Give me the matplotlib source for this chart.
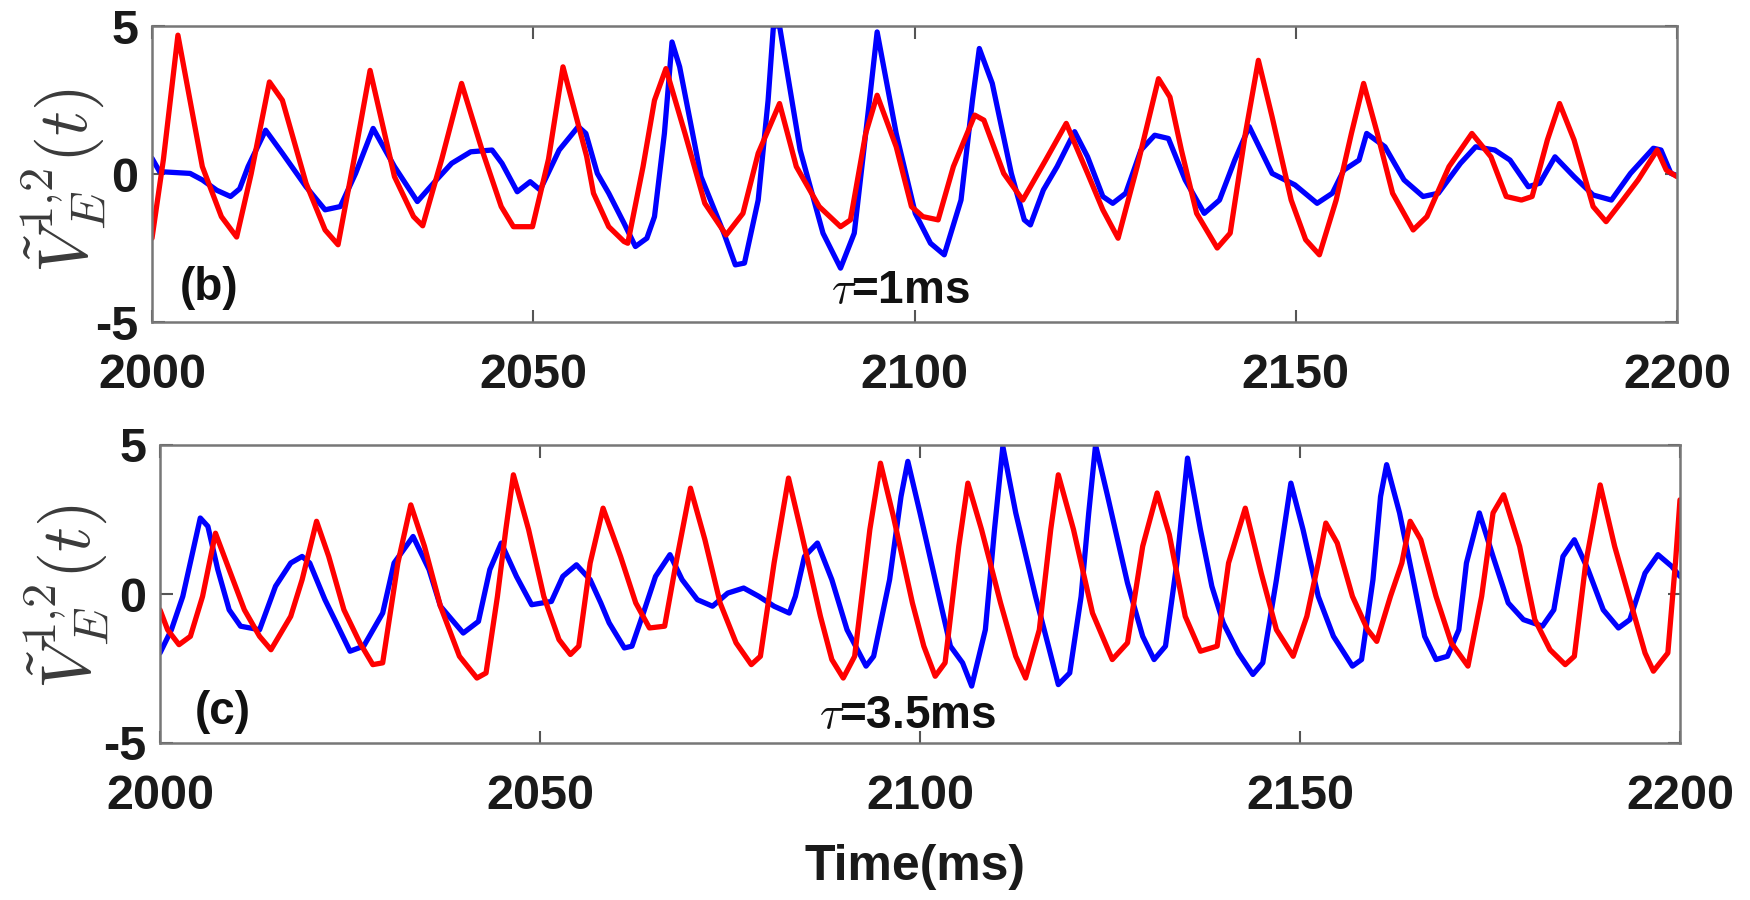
import matplotlib
matplotlib.use("Agg")
import matplotlib.pyplot as plt

plt.rcParams['mathtext.fontset'] = 'cm'
plt.rcParams['font.family'] = ['Liberation Sans', 'DejaVu Sans']

# ---------------- data ----------------
x_ticks = [2000, 2050, 2100, 2150, 2200]
y_ticks = [-5, 0, 5]
y_ticklabels = ['-5', '0', '5']

# panel (b), tau = 1 ms
b_blue_t = [2000.0, 2001.0, 2003.0, 2005.0, 2006.6, 2008.5, 2010.3, 2011.5, 2012.6, 2014.9,
            2017.1, 2020.2, 2022.7, 2024.7, 2026.7, 2029.0, 2031.8, 2034.8, 2037.3, 2039.3,
            2041.8, 2044.6, 2045.9, 2047.9, 2049.6, 2050.9, 2053.4, 2055.9, 2056.9, 2058.4,
            2059.9, 2061.9, 2063.4, 2064.9, 2065.9, 2067.2, 2068.2, 2069.2, 2072.0, 2075.0,
            2076.5, 2077.7, 2079.5, 2080.8, 2081.5, 2082.3, 2085.0, 2088.0, 2090.3, 2092.1,
            2094.1, 2095.1, 2097.6, 2100.1, 2102.1, 2103.9, 2106.1, 2107.6, 2108.5, 2110.2,
            2112.7, 2114.4, 2115.2, 2116.9, 2118.7, 2121.0, 2122.7, 2124.7, 2126.0, 2127.7,
            2129.7, 2131.5, 2133.3, 2135.5, 2138.0, 2140.0, 2142.0, 2143.9, 2146.9, 2149.9,
            2152.8, 2154.8, 2156.3, 2158.3, 2159.3, 2161.7, 2164.2, 2166.7, 2168.7, 2171.6,
            2173.6, 2176.1, 2178.1, 2180.5, 2182.0, 2184.0, 2186.5, 2189.0, 2191.4, 2193.9,
            2196.9, 2197.9, 2199.2, 2200.0]
b_blue_v = [0.53, 0.08, 0.05, 0.02, -0.2, -0.55, -0.76, -0.5, 0.25, 1.48,
            0.7, -0.43, -1.21, -1.1, 0.02, 1.54, 0.25, -0.93, -0.2, 0.36,
            0.75, 0.81, 0.36, -0.6, -0.26, -0.54, 0.81, 1.6, 1.37, 0.02,
            -0.65, -1.66, -2.45, -2.17, -1.44, 1.37, 4.46, 3.62, -0.09, -2.0,
            -3.07, -3.01, -0.88, 2.49, 5.0, 5.0, 0.81, -2.0, -3.18, -2.0,
            2.49, 4.8, 1.37, -1.33, -2.34, -2.73, -0.88, 2.49, 4.24, 3.06,
            0.02, -1.55, -1.72, -0.54, 0.25, 1.43, 0.58, -0.76, -0.99, -0.65,
            0.81, 1.31, 1.2, -0.2, -1.33, -0.88, 0.47, 1.6, 0.02, -0.37,
            -0.99, -0.65, 0.13, 0.47, 1.37, 0.92, -0.2, -0.76, -0.65, 0.36,
            0.92, 0.81, 0.47, -0.43, -0.31, 0.58, -0.09, -0.71, -0.88, 0.02,
            0.87, 0.81, 0.02, -0.05]

b_red_t = [2000.0, 2001.5, 2003.4, 2006.6, 2009.1, 2011.1, 2013.0, 2015.4, 2017.1, 2020.2,
           2022.7, 2024.4, 2026.5, 2028.6, 2031.8, 2034.3, 2035.5, 2038.0, 2040.6, 2043.3,
           2045.8, 2047.4, 2049.9, 2052.0, 2053.9, 2057.0, 2057.9, 2059.9, 2061.9, 2062.4,
           2064.4, 2065.9, 2067.4, 2069.9, 2072.5, 2075.3, 2077.5, 2079.5, 2082.3, 2084.5,
           2087.5, 2090.3, 2091.6, 2093.6, 2095.1, 2097.6, 2099.6, 2101.1, 2103.1, 2105.1,
           2107.9, 2109.1, 2111.7, 2114.2, 2117.2, 2119.9, 2122.7, 2124.7, 2126.7, 2129.2,
           2132.0, 2133.5, 2135.0, 2137.0, 2139.7, 2141.4, 2143.4, 2145.1, 2146.9, 2149.4,
           2151.3, 2153.1, 2155.3, 2157.3, 2158.9, 2160.7, 2162.7, 2165.4, 2167.2, 2170.1,
           2173.1, 2175.6, 2177.6, 2179.6, 2181.0, 2183.0, 2184.6, 2186.5, 2189.0, 2190.7,
           2192.9, 2194.9, 2197.4, 2198.6, 2200.0]
b_red_v = [-2.17, 0.5, 4.69, 0.25, -1.44, -2.13, 0.0, 3.11, 2.49, -0.31,
           -1.89, -2.39, 0.5, 3.5, -0.09, -1.44, -1.75, 0.5, 3.06, 0.8,
           -1.1, -1.78, -1.78, 0.5, 3.62, 0.6, -0.65, -1.78, -2.28, -2.34,
           0.25, 2.49, 3.56, 1.37, -0.99, -2.06, -1.33, 0.7, 2.38, 0.25,
           -1.1, -1.78, -1.55, 1.37, 2.66, 0.92, -1.1, -1.44, -1.55, 0.25,
           1.99, 1.82, 0.02, -0.88, 0.47, 1.71, 0.02, -1.21, -2.17, 0.25,
           3.22, 2.6, 0.81, -1.33, -2.5, -2.0, 1.37, 3.84, 1.93, -0.88,
           -2.22, -2.73, -0.88, 1.37, 3.06, 1.37, -0.65, -1.89, -1.44, 0.25,
           1.37, 0.58, -0.76, -0.88, -0.76, 1.15, 2.38, 1.15, -1.1, -1.61,
           -0.88, -0.2, 0.81, 0.13, -0.09]

# panel (c), tau = 3.5 ms
c_blue_t = [2000.0, 2001.5, 2003.0, 2005.3, 2006.3, 2007.6, 2009.1, 2010.6, 2013.1, 2015.2,
            2017.2, 2018.7, 2019.7, 2021.7, 2023.2, 2025.0, 2026.8, 2029.3, 2030.8, 2033.3,
            2035.4, 2036.9, 2039.9, 2041.9, 2043.4, 2044.9, 2046.9, 2048.9, 2051.5, 2053.0,
            2054.8, 2056.6, 2058.0, 2059.1, 2061.1, 2062.1, 2063.6, 2065.2, 2067.1, 2068.7,
            2070.7, 2072.7, 2074.7, 2076.8, 2078.8, 2080.8, 2082.8, 2083.6, 2084.8, 2086.5,
            2088.4, 2090.4, 2092.9, 2093.9, 2096.0, 2097.5, 2098.4, 2100.0, 2102.5, 2104.0,
            2105.6, 2106.8, 2108.6, 2109.8, 2110.9, 2112.6, 2115.2, 2116.9, 2118.2, 2119.7,
            2121.2, 2122.2, 2123.1, 2124.7, 2127.3, 2129.3, 2130.8, 2132.3, 2133.8, 2135.2,
            2136.9, 2138.4, 2139.9, 2141.9, 2143.8, 2145.1, 2146.9, 2148.8, 2150.4, 2152.4,
            2154.4, 2156.9, 2158.1, 2159.6, 2160.6, 2161.4, 2163.1, 2164.9, 2166.4, 2167.9,
            2169.4, 2170.9, 2171.9, 2173.6, 2175.4, 2177.4, 2179.4, 2181.9, 2183.4, 2184.6,
            2186.1, 2187.9, 2189.9, 2191.9, 2193.4, 2195.4, 2197.1, 2198.9, 2200.0]
c_blue_v = [-1.98, -1.2, -0.08, 2.55, 2.27, 0.82, -0.53, -1.08, -1.2, 0.26,
            1.04, 1.26, 1.04, -0.19, -0.97, -1.92, -1.75, -0.64, 1.04, 1.93,
            0.82, -0.41, -1.31, -0.92, 0.82, 1.71, 0.59, -0.36, -0.25, 0.59,
            0.98, 0.48, -0.3, -0.97, -1.81, -1.75, -0.64, 0.59, 1.32, 0.48,
            -0.19, -0.41, 0.03, 0.2, -0.08, -0.41, -0.64, -0.08, 1.26, 1.71,
            0.48, -1.2, -2.42, -2.09, 0.48, 3.27, 4.45, 2.72, -0.08, -1.75,
            -2.31, -3.09, -1.2, 2.16, 4.95, 2.72, -0.08, -1.75, -3.04, -2.65,
            -0.08, 2.72, 5.0, 3.27, 0.37, -1.42, -2.2, -1.75, 1.04, 4.56,
            2.16, 0.26, -0.97, -1.98, -2.7, -2.31, 0.48, 3.72, 2.16, -0.08,
            -1.42, -2.42, -2.2, 0.48, 3.27, 4.34, 2.72, 0.48, -1.42, -2.2,
            -2.09, -1.2, 1.04, 2.72, 1.26, -0.3, -0.86, -1.08, -0.53, 1.26,
            1.82, 0.82, -0.53, -1.14, -0.86, 0.7, 1.32, 0.93, 0.59]

c_red_t = [2000.0, 2001.0, 2002.5, 2004.0, 2005.6, 2007.3, 2009.1, 2011.1, 2013.1, 2014.6,
           2017.2, 2018.7, 2020.6, 2022.2, 2024.2, 2026.3, 2028.0, 2029.3, 2031.3, 2033.0,
           2034.8, 2036.9, 2039.4, 2041.7, 2042.9, 2044.4, 2045.5, 2046.5, 2048.5, 2050.5,
           2052.5, 2054.0, 2055.1, 2056.6, 2058.3, 2060.6, 2062.6, 2064.4, 2066.4, 2067.9,
           2069.8, 2071.7, 2073.7, 2075.8, 2077.8, 2079.0, 2080.8, 2082.7, 2084.3, 2086.9,
           2088.4, 2089.9, 2091.4, 2093.4, 2094.8, 2096.5, 2099.0, 2100.5, 2102.0, 2103.3,
           2105.1, 2106.3, 2108.1, 2110.6, 2112.6, 2113.9, 2115.7, 2117.2, 2118.2, 2120.2,
           2122.7, 2125.3, 2127.3, 2129.3, 2131.2, 2132.8, 2134.9, 2136.9, 2139.1, 2140.6,
           2142.8, 2144.9, 2146.9, 2149.1, 2150.9, 2152.4, 2153.4, 2154.9, 2156.9, 2158.9,
           2160.1, 2161.9, 2163.4, 2164.5, 2165.9, 2167.9, 2169.9, 2172.1, 2173.9, 2175.4,
           2176.8, 2178.9, 2180.9, 2182.9, 2184.9, 2186.1, 2187.6, 2189.5, 2191.4, 2193.9,
           2195.4, 2196.5, 2198.4, 2199.4, 2200.0]
c_red_v = [-0.53, -1.2, -1.7, -1.42, -0.08, 2.04, 0.82, -0.53, -1.42, -1.87,
           -0.75, 0.48, 2.44, 1.26, -0.53, -1.64, -2.37, -2.31, 1.04, 2.99,
           1.6, -0.41, -2.09, -2.82, -2.65, -0.08, 2.16, 4.0, 2.16, -0.08,
           -1.53, -2.03, -1.75, 1.04, 2.88, 1.26, -0.3, -1.14, -1.08, 1.04,
           3.55, 1.82, -0.3, -1.64, -2.37, -2.09, 1.04, 3.89, 2.16, -0.75,
           -2.2, -2.82, -2.09, 2.16, 4.39, 2.6, -0.3, -1.75, -2.76, -2.31,
           1.6, 3.72, 2.16, -0.3, -2.09, -2.82, -1.2, 2.16, 4.0, 2.16,
           -0.64, -2.2, -1.64, 1.6, 3.39, 2.0, -0.75, -1.92, -1.75, 1.04,
           2.88, 0.7, -1.2, -2.09, -0.75, 1.04, 2.38, 1.71, -0.08, -1.2,
           -1.59, -0.08, 1.04, 2.44, 1.82, -0.08, -1.64, -2.42, -0.08, 2.72,
           3.33, 1.6, -0.86, -1.87, -2.37, -2.09, 1.04, 3.66, 1.6, -0.64,
           -1.98, -2.59, -1.98, 1.04, 3.16]

panel_labels = ['(b)', '(c)']
tau_labels = [r'$\tau$=1ms', r'$\tau$=3.5ms']
ylabel_text = r'$\tilde{V}_E^{1{,}2}(t)$'
xlabel_text = 'Time(ms)'

# ---------------- figure ----------------
W, H = 1750, 900
fig = plt.figure(figsize=(W / 100, H / 100), dpi=100)

def px_axes(x0, y0, x1, y1):
    return fig.add_axes([x0 / W, 1 - y1 / H, (x1 - x0) / W, (y1 - y0) / H])

ax_b = px_axes(152, 26, 1677, 322)
ax_c = px_axes(160, 445, 1680, 743)

spine_col = '#777777'
tick_fs = 35

def style(ax):
    ax.set_xlim(2000, 2200)
    ax.set_ylim(-5, 5)
    ax.set_xticks(x_ticks)
    ax.set_xticklabels([str(v) for v in x_ticks])
    ax.set_yticks(y_ticks)
    ax.set_yticklabels(y_ticklabels)
    for s in ax.spines.values():
        s.set_color(spine_col)
        s.set_linewidth(1.8)
    ax.tick_params(axis='both', direction='in', length=9, width=1.5, color='#555555',
                   top=True, right=True, labelsize=tick_fs, labelcolor='#1a1a1a')
    ax.tick_params(axis='x', pad=22)
    ax.tick_params(axis='y', pad=10)
    for lab in ax.get_xticklabels() + ax.get_yticklabels():
        lab.set_fontweight('bold')

series = [(ax_b, b_blue_t, b_blue_v, b_red_t, b_red_v),
          (ax_c, c_blue_t, c_blue_v, c_red_t, c_red_v)]
for ax, bt, bv, rt, rv in series:
    ax.plot(bt, bv, color='#0000ff', lw=3.8, solid_joinstyle='round', solid_capstyle='round')
    ax.plot(rt, rv, color='#ff0000', lw=3.8, solid_joinstyle='round', solid_capstyle='round')
    style(ax)

ax_b.text(2003.7, -3.85, panel_labels[0], fontsize=33, fontweight='bold', ha='left', va='center', color='#111111')
ax_b.text(2098.1, -3.95, tau_labels[0], fontsize=33, fontweight='bold', ha='center', va='center', color='#111111')
ax_c.text(2004.6, -3.95, panel_labels[1], fontsize=33, fontweight='bold', ha='left', va='center', color='#111111')
ax_c.text(2098.4, -4.1, tau_labels[1], fontsize=33, fontweight='bold', ha='center', va='center', color='#111111')

fig.text(64 / W, 1 - 181 / H, ylabel_text, rotation=90, fontsize=50, ha='center', va='center', color='#3a3a3a')
fig.text(67 / W, 1 - 597 / H, ylabel_text, rotation=90, fontsize=50, ha='center', va='center', color='#3a3a3a')
fig.text(915 / W, 1 - 867 / H, xlabel_text, fontsize=36, fontweight='bold', ha='center', va='center', color='#1a1a1a')

fig.savefig('out.png', dpi=100)
